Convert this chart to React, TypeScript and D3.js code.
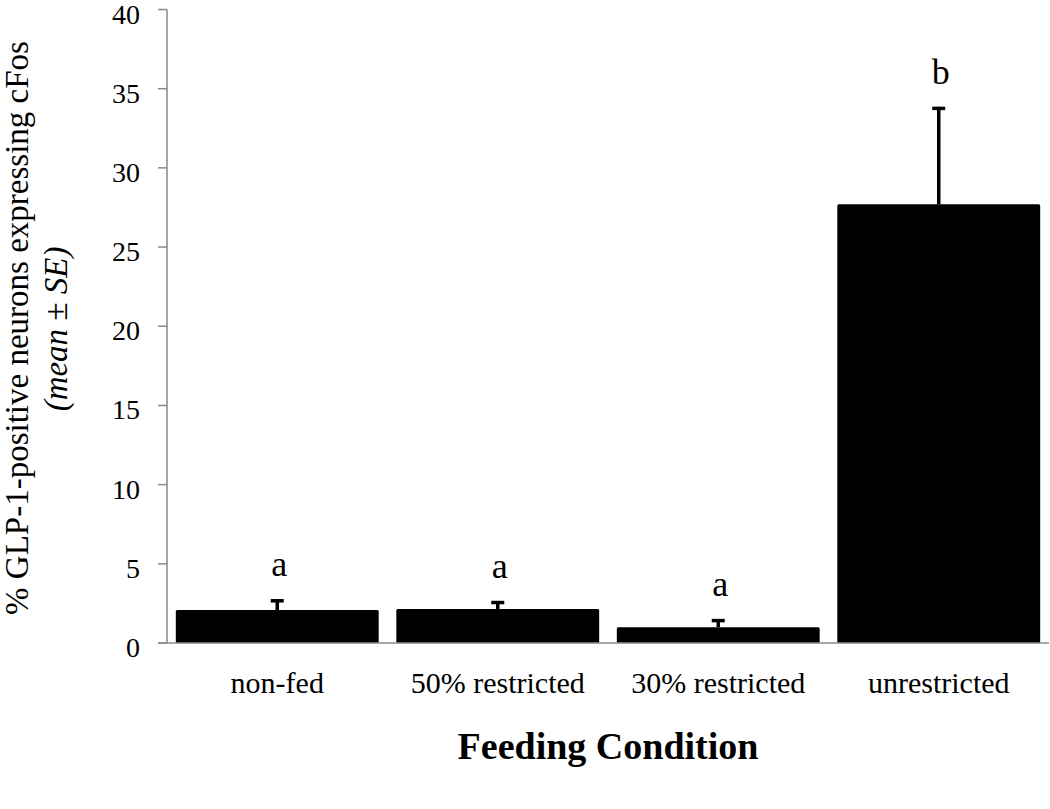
import React from "react";
import * as d3 from "d3";

const categories = ["non-fed", "50% restricted", "30% restricted", "unrestricted"];
const means = [2.08, 2.15, 0.99, 27.7];
const errors = [0.68, 0.5, 0.52, 6.15];
const sigLetters = ["a", "a", "a", "b"];
const yTicks = [0, 5, 10, 15, 20, 25, 30, 35, 40];

const W = 1050;
const H = 809;
const left = 167;
const right = 1049;
const top = 9.5;
const bottom = 643;
const axisColor = "#8a8a8a";
const font = "'Liberation Serif', 'Times New Roman', serif";

export default function App() {
  const x = d3.scaleBand<string>().domain(categories).range([left, right]).paddingInner(0.08).paddingOuter(0.04);
  const y = d3.scaleLinear().domain([0, 40]).range([bottom, top]);
  const bw = x.bandwidth();

  return (
    <svg width={W} height={H} style={{ position: "absolute", left: 0, top: 0, background: "#fff" }} fontFamily={font}>
      {/* bars */}
      {categories.map((c, i) => (
        <rect key={"b" + i} x={x(c)} y={y(means[i])} width={bw} height={bottom - y(means[i])} fill="#000" rx={1.5} />
      ))}
      {/* error bars */}
      {categories.map((c, i) => {
        const cx = (x(c) as number) + bw / 2;
        const yt = y(means[i] + errors[i]);
        return (
          <g key={"e" + i}>
            <line x1={cx} x2={cx} y1={y(means[i])} y2={yt} stroke="#000" strokeWidth={3.5} />
            <line x1={cx - 6.5} x2={cx + 6.5} y1={yt + 1.5} y2={yt + 1.5} stroke="#000" strokeWidth={3.5} />
          </g>
        );
      })}
      {/* significance letters */}
      {categories.map((c, i) => (
        <text key={"s" + i} x={(x(c) as number) + bw / 2 + 2} y={y(means[i] + errors[i]) - 23} textAnchor="middle" fontSize={36}>
          {sigLetters[i]}
        </text>
      ))}
      {/* y axis */}
      <line x1={left} x2={left} y1={top} y2={bottom} stroke={axisColor} strokeWidth={1.5} />
      {yTicks.map((t) => (
        <g key={"t" + t}>
          <line x1={158} x2={left} y1={y(t)} y2={y(t)} stroke={axisColor} strokeWidth={1.5} />
          <text x={140} y={y(t) + 14} textAnchor="end" fontSize={28}>
            {t}
          </text>
        </g>
      ))}
      {/* x axis */}
      <line x1={158} x2={right} y1={bottom} y2={bottom} stroke={axisColor} strokeWidth={1.5} />
      {categories.map((c) => (
        <text key={"l" + c} x={(x(c) as number) + bw / 2} y={693} textAnchor="middle" fontSize={30}>
          {c}
        </text>
      ))}
      <text x={608} y={759} textAnchor="middle" fontSize={38} fontWeight="bold">
        Feeding Condition
      </text>
      {/* y title */}
      <text transform="translate(28,328) rotate(-90)" textAnchor="middle" fontSize={33}>
        % GLP-1-positive neurons expressing cFos
      </text>
      <text transform="translate(67,329) rotate(-90)" textAnchor="middle" fontSize={33} fontStyle="italic">
        (mean ± SE)
      </text>
    </svg>
  );
}
